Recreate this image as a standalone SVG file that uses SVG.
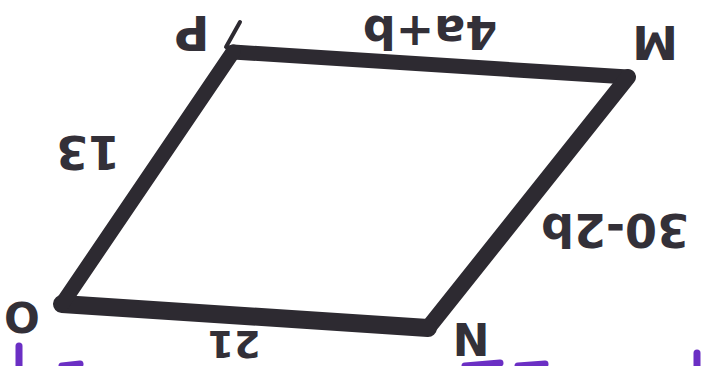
<svg xmlns="http://www.w3.org/2000/svg" width="703" height="366" viewBox="0 0 703 366">
<style>
.edge{fill:none;stroke:#2d2a31;stroke-linecap:round;stroke-linejoin:round}
.lbl{font-family:"DejaVu Sans","Liberation Sans",sans-serif;font-weight:bold;fill:#333038;text-anchor:middle;dominant-baseline:central}
.ink{fill:none;stroke:#6b2fc4;stroke-linecap:round;stroke-width:7}
</style>
<rect width="703" height="366" fill="#ffffff"/>
<g id="connectors">
<path class="edge" d="M233,52 L628,77" stroke-width="15"/>
<path class="edge" d="M628,77 L428,328" stroke-width="16"/>
<path class="edge" d="M428,328 L62,304" stroke-width="18"/>
<path class="edge" d="M62,304 L233,52" stroke-width="15"/>
<path class="edge" d="M226,47 L240,22" stroke-width="4"/>
</g>
<g id="node-P"><text class="lbl" font-size="48" transform="rotate(180 192 33)" x="192" y="33">P</text></g>
<g id="node-M"><text class="lbl" font-size="46" transform="rotate(180 655 42)" x="655" y="42">M</text></g>
<g id="node-N"><text class="lbl" font-size="44" transform="rotate(180 471 338)" x="471" y="338">N</text></g>
<g id="node-O"><text class="lbl" font-size="42" transform="rotate(180 22 316)" x="22" y="316">O</text></g>
<g id="label-PM"><text class="lbl" font-size="46" transform="rotate(180 430 32)" x="430" y="32">4a+b</text></g>
<g id="label-OP"><text class="lbl" font-size="46" transform="rotate(180 88 152)" x="88" y="152">13</text></g>
<g id="label-MN"><text class="lbl" font-size="46" transform="rotate(180 615 230)" x="615" y="230">30-2b</text></g>
<g id="label-ON"><text class="lbl" font-size="38" transform="rotate(180 234 344)" x="234" y="344">21</text></g>
<g id="purple-ink">
<path class="ink" d="M19,346 L19,366"/>
<path class="ink" d="M62,366 L80,364"/>
<path class="ink" d="M465,366 L500,363"/>
<path class="ink" d="M518,366 L545,364"/>
<path class="ink" d="M697,353 L697,366"/>
</g>
</svg>
